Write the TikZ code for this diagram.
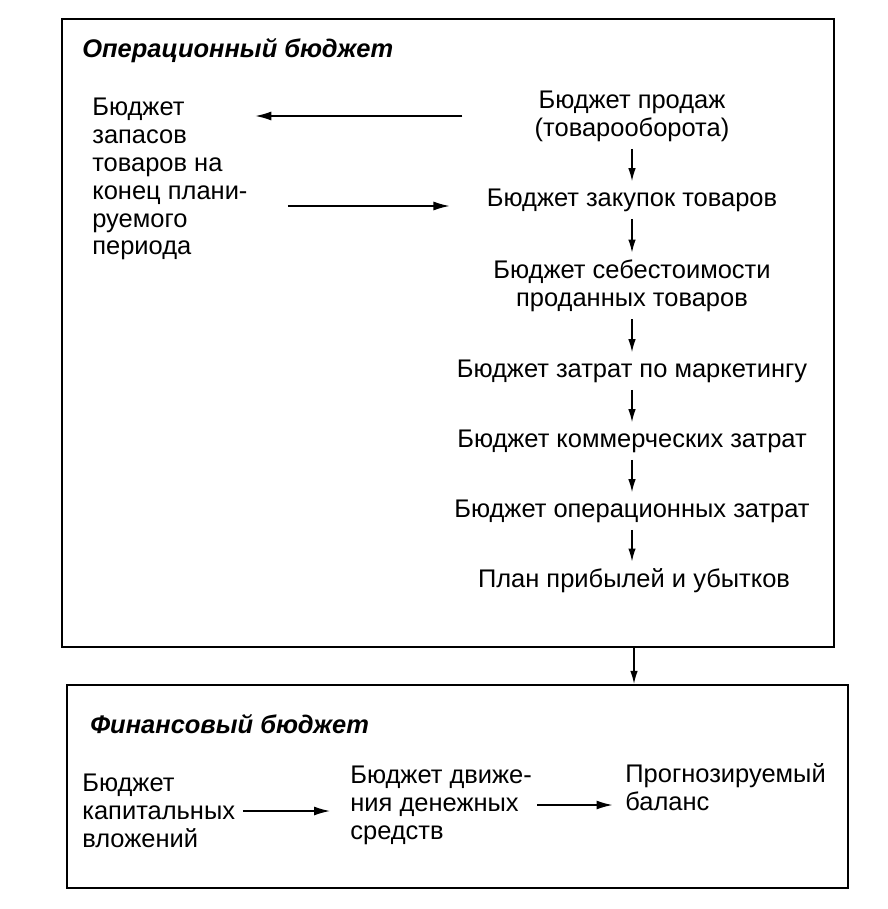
\documentclass[tikz,border=0pt]{standalone}
\usepackage{fontspec}
\setmainfont{Liberation Sans}
\usetikzlibrary{arrows.meta, positioning}

\begin{document}
\begin{tikzpicture}[
        x=0.02cm, y=-0.02cm,
        every node/.style={font=\fontsize{14.5}{15.9}\selectfont},
        block/.style={draw, line width=1.2pt, inner sep=0pt},
        heading/.style={anchor=west, inner sep=0pt, font=\fontsize{14.5}{15.9}\selectfont\bfseries\itshape},
        item/.style={align=center, inner sep=4pt},
        side/.style={anchor=west, align=left, inner sep=0pt},
        flow/.style={-{Latex[length=2.6mm, width=1.5mm]}, line width=0.8pt},
        link/.style={-{Latex[length=3.2mm, width=1.8mm]}, line width=0.8pt}
        ]
        \useasboundingbox (0,0) rectangle (888,909);

        % operational budget
        \node[block, minimum width=15.44cm, minimum height=12.56cm] (ops) at (448,333) {};
        \node[heading] (opstitle) at (82,51) {Операционный бюджет};

        \node[side] (stock) at (92,179) {Бюджет\\запасов\\товаров на\\конец плани-\\руемого\\периода};

        \node[item] (sales) at (632,116) {Бюджет продаж\\(товарооборота)};
        \node[item] (purchase) at (632,200) {Бюджет закупок товаров};
        \node[item] (cost) at (632,286) {Бюджет себестоимости\\проданных товаров};
        \node[item] (marketing) at (632,371) {Бюджет затрат по маркетингу};
        \node[item] (commercial) at (632,441) {Бюджет коммерческих затрат};
        \node[item] (operating) at (632,511) {Бюджет операционных затрат};
        \node[item] (plan) at (634,581) {План прибылей и убытков};

        \foreach \a/\b in {sales/purchase, purchase/cost, cost/marketing, marketing/commercial, commercial/operating, operating/plan}
            \draw[flow] (\a) -- (\a |- \b.north);

        \draw[link, shorten <=1.3cm, shorten >=0.15cm] (sales.west) -- (sales.west -| stock.east);
        \draw[link, shorten <=0.8cm, shorten >=0.6cm] ([yshift=-0.12cm]stock.east |- purchase.west) -- ([yshift=-0.12cm]purchase.west);

        % financial budget
        \node[block, minimum width=15.62cm, minimum height=4.06cm] (fin) at (457.5,786.5) {};
        \node[heading] (fintitle) at (90,724) {Финансовый бюджет};

        \node[side] (capital) at (82,811) {Бюджет\\капитальных\\вложений};
        \node[side] (cash) at (350,805) {Бюджет движе-\\ния денежных\\средств};
        \node[side] (balance) at (625,787) {Прогнозируемый\\баланс};

        \draw[link, shorten <=0.15cm, shorten >=0.4cm] (capital.east) -- (capital.east -| cash.west);
        \draw[link, shorten <=0.1cm, shorten >=0.25cm] (cash.east) -- (cash.east -| balance.west);

        \draw[flow] (plan.south |- ops.south) -- (plan.south |- fin.north);
    \end{tikzpicture}
\end{document}
